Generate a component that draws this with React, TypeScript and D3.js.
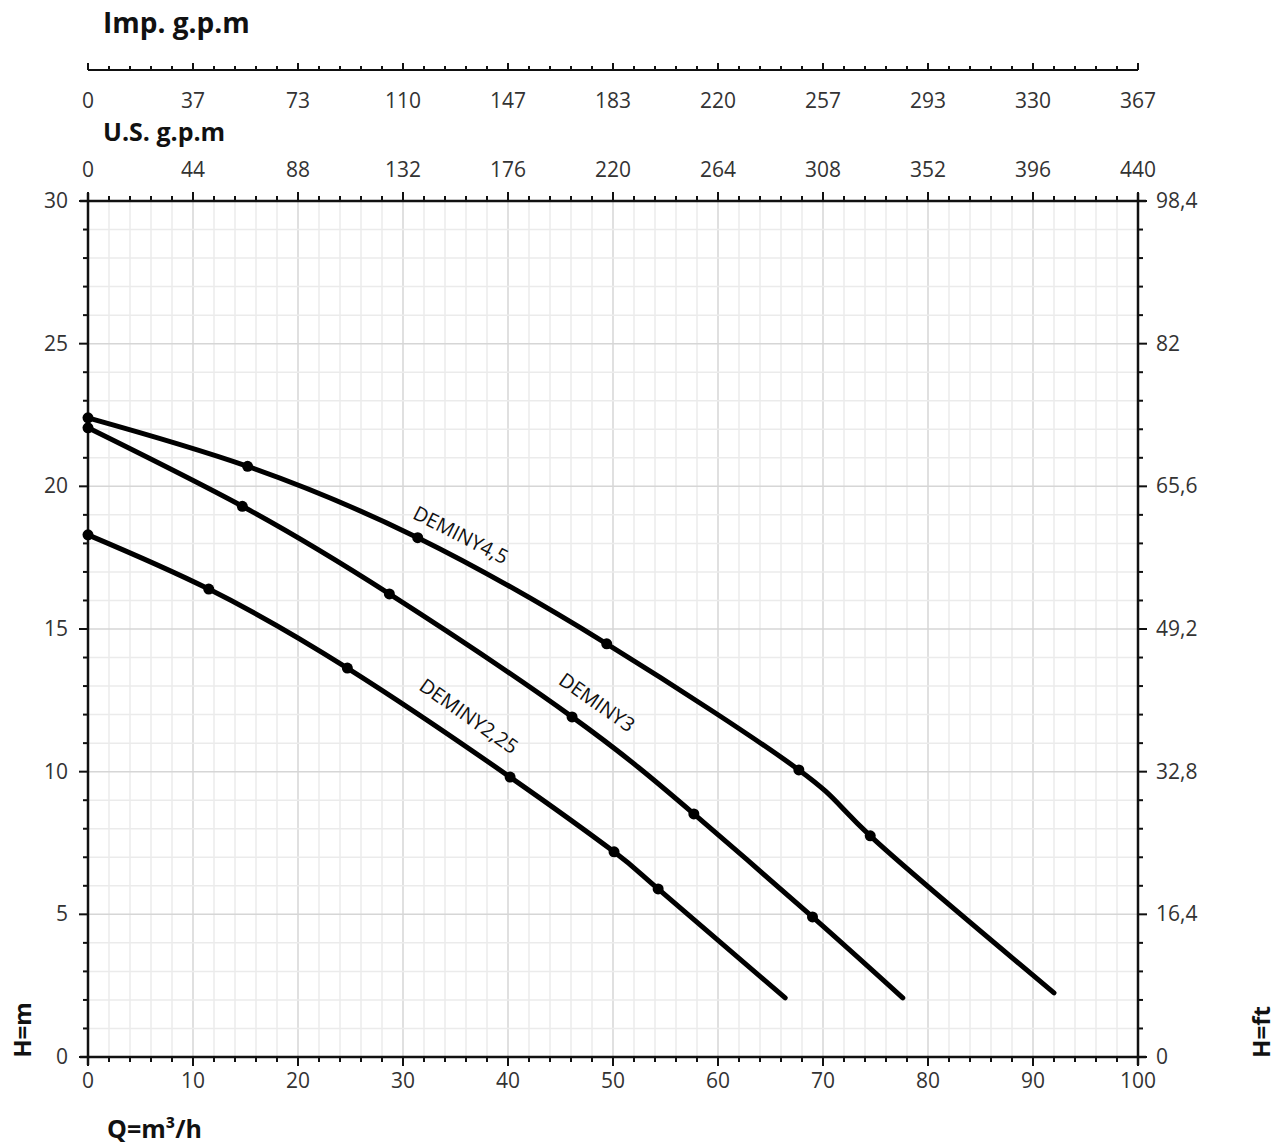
import React from "react";
import * as d3 from "d3";

const qTicks = [0, 10, 20, 30, 40, 50, 60, 70, 80, 90, 100];
const impLabels = ["0", "37", "73", "110", "147", "183", "220", "257", "293", "330", "367"];
const usLabels = ["0", "44", "88", "132", "176", "220", "264", "308", "352", "396", "440"];
const hTicks = [0, 5, 10, 15, 20, 25, 30];
const ftLabels = ["0", "16,4", "32,8", "49,2", "65,6", "82", "98,4"];

const q45 = [0, 15.2, 31.4, 49.4, 67.7, 74.5, 92.0];
const h45 = [22.4, 20.7, 18.2, 14.48, 10.06, 7.75, 2.25];
const q3 = [0, 14.7, 28.7, 46.1, 57.7, 69.0, 77.6];
const h3 = [22.05, 19.3, 16.23, 11.92, 8.52, 4.91, 2.07];
const q225 = [0, 11.5, 24.7, 40.2, 50.1, 54.3, 66.4];
const h225 = [18.3, 16.4, 13.63, 9.81, 7.19, 5.89, 2.07];

const seriesNames = ["DEMINY4,5", "DEMINY3", "DEMINY2,25"];
const labelQ = [30.8, 44.7, 31.4];
const labelH = [18.9, 13.1, 12.9];
const labelAngle = [27, 35, 35];

const FONT = "'Open Sans', 'Liberation Sans', sans-serif";

export default function App() {
  const W = 1286, H = 1146;
  const x = d3.scaleLinear().domain([0, 100]).range([88, 1138]);
  const y = d3.scaleLinear().domain([0, 30]).range([1057, 201]);
  const impY = 70;

  const minorQ = d3.range(0, 101, 2);
  const minorH = d3.range(0, 31, 1);

  const series = [
    { q: q45, h: h45 },
    { q: q3, h: h3 },
    { q: q225, h: h225 },
  ];
  const line = d3
    .line<[number, number]>()
    .x((d) => x(d[0]))
    .y((d) => y(d[1]))
    .curve(d3.curveNatural);

  const tc = "#333";
  return (
    <svg width={W} height={H} style={{ display: "block", position: "absolute", left: 0, top: 0, background: "#fff" }}>
      {/* grid */}
      {minorQ.map((v) => (
        <line key={"gx" + v} x1={x(v)} x2={x(v)} y1={y(0)} y2={y(30)} stroke={v % 10 === 0 ? "#d6d6d6" : "#ebebeb"} strokeWidth={1.5} />
      ))}
      {minorH.map((v) => (
        <line key={"gy" + v} x1={x(0)} x2={x(100)} y1={y(v)} y2={y(v)} stroke={v % 5 === 0 ? "#d6d6d6" : "#ebebeb"} strokeWidth={1.5} />
      ))}

      {/* Imp axis */}
      <text x={103} y={33} fontFamily={FONT} fontWeight="bold" fontSize={28} fill="#111">Imp. g.p.m</text>
      <line x1={x(0)} x2={x(100)} y1={impY} y2={impY} stroke="#111" strokeWidth={2} />
      {minorQ.map((v) => (
        <line key={"it" + v} x1={x(v)} x2={x(v)} y1={impY} y2={impY - (v % 10 === 0 ? 7 : 4)} stroke="#111" strokeWidth={2} />
      ))}
      {qTicks.map((v, i) => (
        <text key={"il" + v} x={x(v)} y={108} textAnchor="middle" fontFamily={FONT} fontSize={21} fill={tc}>{impLabels[i]}</text>
      ))}
      <text x={103} y={141} fontFamily={FONT} fontWeight="bold" fontSize={25} fill="#111">U.S. g.p.m</text>
      {qTicks.map((v, i) => (
        <text key={"ul" + v} x={x(v)} y={177} textAnchor="middle" fontFamily={FONT} fontSize={21} fill={tc}>{usLabels[i]}</text>
      ))}

      {/* plot frame */}
      <line x1={x(0) - 8} x2={x(100) + 8} y1={y(30)} y2={y(30)} stroke="#111" strokeWidth={2.5} />
      <line x1={x(0) - 8} x2={x(100) + 8} y1={y(0)} y2={y(0)} stroke="#111" strokeWidth={2.5} />
      <line x1={x(0)} x2={x(0)} y1={y(30) - 8} y2={y(0) + 8} stroke="#111" strokeWidth={2.5} />
      <line x1={x(100)} x2={x(100)} y1={y(30) - 8} y2={y(0) + 8} stroke="#111" strokeWidth={2.5} />
      {minorQ.map((v) => (
        <g key={"qt" + v}>
          <line x1={x(v)} x2={x(v)} y1={y(0)} y2={y(0) + (v % 10 === 0 ? 9 : 5)} stroke="#111" strokeWidth={2} />
          <line x1={x(v)} x2={x(v)} y1={y(30)} y2={y(30) - (v % 10 === 0 ? 9 : 5)} stroke="#111" strokeWidth={2} />
        </g>
      ))}
      {minorH.map((v) => (
        <g key={"ht" + v}>
          <line x1={x(0)} x2={x(0) - (v % 5 === 0 ? 9 : 5)} y1={y(v)} y2={y(v)} stroke="#111" strokeWidth={2} />
          <line x1={x(100)} x2={x(100) + (v % 5 === 0 ? 9 : 5)} y1={y(v)} y2={y(v)} stroke="#111" strokeWidth={2} />
        </g>
      ))}
      {qTicks.map((v) => (
        <text key={"ql" + v} x={x(v)} y={y(0) + 31} textAnchor="middle" fontFamily={FONT} fontSize={21} fill={tc}>{v}</text>
      ))}
      {hTicks.map((v, i) => (
        <g key={"hl" + v}>
          <text x={x(0) - 20} y={y(v) + 7} textAnchor="end" fontFamily={FONT} fontSize={21} fill={tc}>{v}</text>
          <text x={x(100) + 18} y={y(v) + 7} textAnchor="start" fontFamily={FONT} fontSize={21} fill={tc}>{ftLabels[i]}</text>
        </g>
      ))}

      {/* axis titles */}
      <text transform="translate(31,1030) rotate(-90)" textAnchor="middle" fontFamily={FONT} fontWeight="bold" fontSize={24} fill="#111">H=m</text>
      <text transform="translate(1270,1032) rotate(-90)" textAnchor="middle" fontFamily={FONT} fontWeight="bold" fontSize={24} fill="#111">H=ft</text>
      <text x={107} y={1138} fontFamily={FONT} fontWeight="bold" fontSize={25} fill="#111">Q=m³/h</text>

      {/* curves */}
      {series.map((s, si) => {
        const pts: [number, number][] = s.q.map((q, i) => [q, s.h[i]]);
        return (
          <g key={"s" + si}>
            <path d={line(pts) || ""} fill="none" stroke="#000" strokeWidth={5} strokeLinecap="round" />
            {pts.slice(0, -1).map((p, i) => (
              <circle key={i} cx={x(p[0])} cy={y(p[1])} r={5.5} fill="#000" />
            ))}
            <text
              transform={`translate(${x(labelQ[si])},${y(labelH[si])}) rotate(${labelAngle[si]})`}
              fontFamily={FONT}
              fontSize={20}
              fill="#111"
            >
              {seriesNames[si]}
            </text>
          </g>
        );
      })}
    </svg>
  );
}
